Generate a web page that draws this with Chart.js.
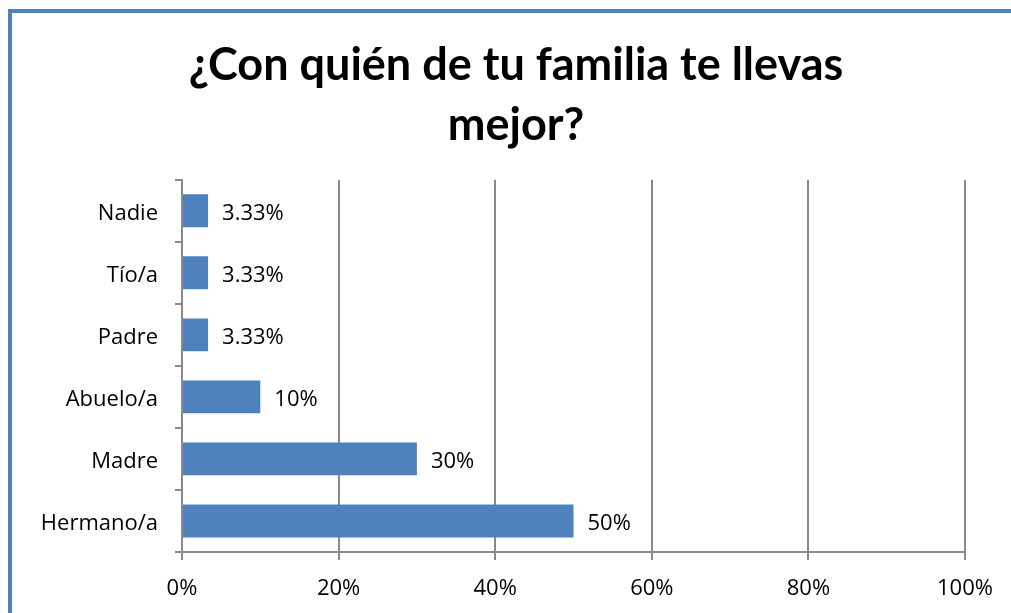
<!DOCTYPE html>
<html>
<head>
<meta charset="utf-8">
<script src="https://cdn.jsdelivr.net/npm/chart.js@4"></script>
<style>
  html, body { margin: 0; padding: 0; background: #fff; overflow: hidden; }
  #wrap { position: relative; width: 1011px; height: 613px; overflow: hidden; }
  .bl { position: absolute; background: #4F81BD; }
  #bleft { left: 8px; top: 9px; width: 4px; height: 604px; }
  #btop { left: 8px; top: 9px; width: 1003px; height: 4px; }
  canvas { position: absolute; left: 0; top: 0; }
</style>
</head>
<body>
<div id="wrap">
  <div class="bl" id="bleft"></div>
  <div class="bl" id="btop"></div>
  <canvas id="c" width="1011" height="613"></canvas>
</div>
<script>
const titleLines = ['¿Con quién de tu familia te llevas', 'mejor?'];
const categories = ['Nadie', 'Tío/a', 'Padre', 'Abuelo/a', 'Madre', 'Hermano/a'];
const values = [3.33, 3.33, 3.33, 10, 30, 50];
const valueLabels = ['3.33%', '3.33%', '3.33%', '10%', '30%', '50%'];
const xTicks = [0, 20, 40, 60, 80, 100];

const FONT = '"Open Sans", Lato, sans-serif';
const TITLE_FONT = 'Lato, "Open Sans", sans-serif';

const valueLabelPlugin = {
  id: 'valueLabels',
  afterLayout(chart) {
    // let the category labels extend left beyond the layout padding without clipping
    const y = chart.scales.y;
    y.left = 0;
    y.width = y.right - y.left;
  },
  afterDatasetsDraw(chart) {
    const ctx = chart.ctx;
    const meta = chart.getDatasetMeta(0);
    ctx.save();
    ctx.font = '22px ' + FONT;
    ctx.fillStyle = '#000';
    ctx.textAlign = 'left';
    ctx.textBaseline = 'middle';
    meta.data.forEach((bar, i) => {
      ctx.fillText(valueLabels[i], bar.x + 14, bar.y + 3);
    });
    ctx.restore();
  }
};

new Chart(document.getElementById('c'), {
  type: 'bar',
  data: {
    labels: categories,
    datasets: [{
      data: values,
      backgroundColor: '#4F81BD',
      borderWidth: 0,
      categoryPercentage: 1,
      barPercentage: 0.53
    }]
  },
  options: {
    indexAxis: 'y',
    responsive: false,
    animation: false,
    layout: { padding: { left: 67, right: 46, top: 0, bottom: 0 } },
    plugins: {
      legend: { display: false },
      tooltip: { enabled: false },
      title: {
        display: true,
        text: titleLines,
        color: '#000',
        font: { family: TITLE_FONT, size: 45, weight: 'bold', lineHeight: 1.33 },
        padding: { top: 36, bottom: 24 }
      }
    },
    scales: {
      x: {
        min: 0, max: 100,
        afterBuildTicks(scale) { scale.ticks = xTicks.map(v => ({ value: v })); },
        afterFit(scale) { scale.height = 61; },
        ticks: {
          color: '#000',
          font: { family: FONT, size: 22 },
          padding: 16,
          callback: v => v + '%'
        },
        grid: { color: '#8a8a8a', lineWidth: 2, tickLength: 8, drawTicks: true },
        border: { color: '#8a8a8a', width: 2 }
      },
      y: {
        afterFit(scale) { scale.width = 115; },
        ticks: {
          color: '#000',
          font: { family: FONT, size: 22 },
          padding: 17,
          labelOffset: 3
        },
        grid: { offset: true, drawOnChartArea: false, drawTicks: true, tickLength: 7, color: '#8a8a8a', lineWidth: 2 },
        border: { color: '#8a8a8a', width: 2 }
      }
    }
  },
  plugins: [valueLabelPlugin]
});
</script>
</body>
</html>
